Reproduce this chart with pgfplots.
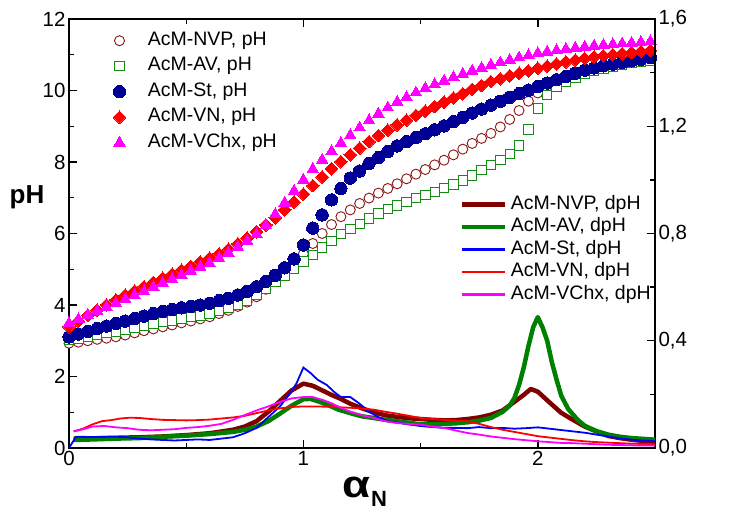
\documentclass[border=0pt]{standalone}
\usepackage{fontspec}
\setmainfont{Liberation Sans}
\usepackage{pgfplots}
\usepackage{pgfplotstable}
\pgfplotsset{compat=1.18}

\definecolor{nvpmark}{RGB}{140,20,20}
\definecolor{nvpline}{RGB}{128,0,0}
\definecolor{avmark}{RGB}{20,140,20}
\definecolor{avline}{RGB}{0,128,0}
\definecolor{stmark}{RGB}{0,0,150}
\definecolor{stline}{RGB}{0,0,255}
\definecolor{vncol}{RGB}{255,0,0}
\definecolor{vchxcol}{RGB}{255,0,255}

% titration curves, pH against alpha_N
\pgfplotstableread{
x nvp av st vn vchx
0.00 2.93 3.02 3.11 3.39 3.49
0.04 2.96 3.06 3.19 3.55 3.60
0.08 3.00 3.11 3.26 3.71 3.72
0.12 3.04 3.16 3.34 3.86 3.83
0.16 3.07 3.21 3.41 4.00 3.94
0.20 3.11 3.26 3.48 4.14 4.05
0.24 3.16 3.32 3.55 4.27 4.16
0.28 3.22 3.37 3.62 4.39 4.27
0.32 3.28 3.42 3.69 4.51 4.38
0.36 3.33 3.48 3.76 4.63 4.50
0.40 3.39 3.53 3.82 4.75 4.61
0.44 3.44 3.57 3.87 4.86 4.72
0.48 3.50 3.62 3.92 4.97 4.83
0.52 3.55 3.66 3.96 5.08 4.95
0.56 3.61 3.71 4.00 5.20 5.06
0.60 3.67 3.76 4.05 5.31 5.17
0.64 3.76 3.83 4.12 5.43 5.31
0.68 3.85 3.91 4.19 5.56 5.46
0.72 3.96 4.01 4.28 5.71 5.62
0.76 4.08 4.13 4.38 5.87 5.79
0.80 4.23 4.28 4.51 6.05 5.98
0.84 4.44 4.46 4.66 6.24 6.23
0.88 4.68 4.65 4.83 6.44 6.54
0.92 4.91 4.82 5.04 6.66 6.86
0.96 5.15 5.00 5.29 6.88 7.19
1.00 5.43 5.22 5.68 7.10 7.50
1.04 5.72 5.40 6.15 7.34 7.80
1.08 6.00 5.61 6.52 7.58 8.06
1.12 6.25 5.79 6.94 7.81 8.30
1.16 6.47 5.98 7.26 8.01 8.53
1.20 6.66 6.12 7.55 8.20 8.75
1.24 6.84 6.27 7.75 8.39 8.96
1.28 6.99 6.42 7.96 8.57 9.16
1.32 7.13 6.56 8.12 8.74 9.35
1.36 7.26 6.68 8.29 8.89 9.52
1.40 7.39 6.78 8.45 9.04 9.68
1.44 7.53 6.89 8.57 9.17 9.81
1.48 7.66 6.99 8.68 9.30 9.94
1.52 7.79 7.08 8.79 9.42 10.06
1.56 7.92 7.17 8.90 9.55 10.17
1.60 8.05 7.27 9.01 9.67 10.27
1.64 8.20 7.37 9.13 9.79 10.37
1.68 8.36 7.48 9.25 9.91 10.46
1.72 8.52 7.62 9.37 10.03 10.55
1.76 8.66 7.78 9.48 10.14 10.63
1.80 8.80 7.91 9.59 10.25 10.71
1.84 8.98 8.05 9.70 10.33 10.78
1.88 9.19 8.22 9.81 10.41 10.85
1.92 9.44 8.46 9.91 10.48 10.92
1.96 9.70 8.91 10.01 10.55 10.98
2.00 9.93 9.50 10.11 10.62 11.04
2.04 10.11 9.88 10.21 10.68 11.08
2.08 10.24 10.10 10.30 10.74 11.12
2.12 10.35 10.24 10.39 10.80 11.16
2.16 10.45 10.36 10.48 10.85 11.19
2.20 10.54 10.46 10.57 10.90 11.22
2.24 10.61 10.54 10.63 10.94 11.25
2.28 10.68 10.61 10.69 10.97 11.27
2.32 10.74 10.67 10.74 11.00 11.29
2.36 10.80 10.72 10.79 11.03 11.31
2.40 10.85 10.77 10.83 11.06 11.33
2.44 10.89 10.81 10.87 11.09 11.35
2.48 10.93 10.84 10.92 11.12 11.37
}\phdata

\begin{document}
\begin{tikzpicture}
\begin{axis}[
  name=main,
  scale only axis, width=586pt, height=429pt,
  xmin=0, xmax=2.5, ymin=0, ymax=12,
  xtick={0,1,2}, minor xtick={0.5,1.5},
  ytick={0,2,...,12}, minor ytick={1,3,...,11},
  ytick pos=left,
  tick align=inside,
  major tick length=8pt, minor tick length=5pt,
  tick style={black, line width=1.4pt},
  axis line style={line width=1.8pt},
  /pgf/number format/assume math mode=true,
  ticklabel style={font=\fontsize{20.5}{24}\selectfont},
  clip=false,
  legend style={at={(rel axis cs:0.075,0.972)}, anchor=north west,
    draw=none, fill=none, inner xsep=0pt, inner ysep=0pt,
    font=\fontsize{19.5}{23}\selectfont, row sep=6.5pt, column sep=21pt,
    nodes={inner sep=1pt, text height=13pt, text depth=4pt}},
  legend cell align=left,
]
\addplot[only marks, mark=*, mark size=5pt, mark options={draw=nvpmark, fill=white, line width=0.9pt}]
  table[x=x, y=nvp] {\phdata};
\addlegendentry{AcM-NVP, pH}
\addplot[only marks, mark=square*, mark size=4.7pt, mark options={draw=avmark, fill=white, line width=0.9pt}]
  table[x=x, y=av] {\phdata};
\addlegendentry{AcM-AV, pH}
\addplot[only marks, mark=*, mark size=6.2pt, mark options={draw=stmark, fill=stmark, line width=0pt}]
  table[x=x, y=st] {\phdata};
\addlegendentry{AcM-St, pH}
\addplot[only marks, mark=square*, mark size=4.5pt, mark options={draw=vncol, fill=vncol, rotate=45, line width=0pt}]
  table[x=x, y=vn] {\phdata};
\addlegendentry{AcM-VN, pH}
\addplot[only marks, mark=triangle*, mark size=6.6pt, mark options={draw=vchxcol, fill=vchxcol, line width=0pt}]
  table[x=x, y=vchx] {\phdata};
\addlegendentry{AcM-VChx, pH}

\node[font=\fontsize{26}{30}\selectfont\bfseries] at (rel axis cs:-0.0717,0.585) {pH};
\node at (rel axis cs:0.505,-0.102)
  {\scalebox{1.2}[1]{\fontsize{38}{38}\selectfont\bfseries α}\raisebox{-9pt}{\fontsize{22}{22}\selectfont\bfseries N}};
\end{axis}

\begin{axis}[
  scale only axis, width=586pt, height=429pt,
  xmin=0, xmax=2.5, ymin=0, ymax=1.6,
  axis x line=none, axis y line*=right,
  ytick={0,0.4,0.8,1.2,1.6},
  yticklabels={{0,0},{0,4},{0,8},{1,2},{1,6}},
  minor ytick={0.2,0.6,1.0,1.4},
  tick align=inside,
  major tick length=8pt, minor tick length=5pt,
  tick style={black, line width=1.4pt},
  axis line style={line width=1.8pt},
  ticklabel style={font=\fontsize{20.5}{24}\selectfont},
  legend style={at={(rel axis cs:0.666,0.59)}, anchor=north west,
    draw=none, fill=none, inner xsep=0pt, inner ysep=0pt,
    font=\fontsize{19.5}{23}\selectfont, row sep=3.5pt, column sep=3pt,
    nodes={inner sep=1pt, text height=13pt, text depth=4pt}},
  legend cell align=left,
  legend image code/.code={\draw[#1] (0pt,0pt) -- (43pt,0pt);},
]
\addplot[color=nvpline, line width=4.5pt, line join=round] coordinates {
(0.02,0.035) (0.1,0.036) (0.2,0.038) (0.3,0.040) (0.4,0.043) (0.5,0.048)
(0.6,0.055) (0.7,0.068) (0.75,0.08) (0.8,0.10) (0.85,0.135) (0.9,0.175)
(0.95,0.215) (1.0,0.24) (1.04,0.232) (1.08,0.215) (1.12,0.198) (1.16,0.183)
(1.2,0.165) (1.25,0.148) (1.3,0.133) (1.35,0.122) (1.4,0.116) (1.45,0.111)
(1.5,0.108) (1.55,0.105) (1.6,0.103) (1.65,0.104) (1.7,0.108) (1.75,0.114)
(1.8,0.124) (1.85,0.14) (1.9,0.172) (1.94,0.198) (1.97,0.22) (2.0,0.21)
(2.05,0.17) (2.1,0.131) (2.15,0.105) (2.2,0.08) (2.25,0.062) (2.3,0.045)
(2.35,0.037) (2.4,0.031) (2.45,0.026) (2.5,0.021)};
\addlegendentry{AcM-NVP, dpH}
\addplot[color=avline, line width=4.5pt, line join=round] coordinates {
(0.02,0.03) (0.1,0.032) (0.2,0.035) (0.3,0.037) (0.4,0.042) (0.5,0.046)
(0.6,0.052) (0.7,0.06) (0.75,0.068) (0.8,0.08) (0.85,0.10) (0.9,0.128)
(0.95,0.158) (1.0,0.182) (1.03,0.183) (1.07,0.172) (1.1,0.162) (1.15,0.143)
(1.2,0.13) (1.25,0.118) (1.3,0.112) (1.35,0.105) (1.4,0.1) (1.45,0.094)
(1.5,0.088) (1.55,0.088) (1.6,0.09) (1.65,0.092) (1.7,0.096) (1.75,0.102)
(1.8,0.112) (1.85,0.135) (1.88,0.158) (1.9,0.186) (1.92,0.235) (1.94,0.30)
(1.96,0.38) (1.98,0.45) (2.0,0.488) (2.02,0.45) (2.04,0.40) (2.06,0.32)
(2.08,0.255) (2.1,0.195) (2.13,0.145) (2.17,0.105) (2.2,0.083) (2.25,0.063)
(2.3,0.05) (2.35,0.042) (2.4,0.037) (2.45,0.034) (2.5,0.031)};
\addlegendentry{AcM-AV, dpH}
\addplot[color=stline, line width=1.8pt, legend image post style={line width=2.2pt}] coordinates {
(0,0) (0.03,0.042) (0.1,0.041) (0.2,0.042) (0.25,0.040) (0.3,0.035)
(0.35,0.032) (0.4,0.030) (0.45,0.028) (0.5,0.030) (0.55,0.032) (0.6,0.030)
(0.65,0.035) (0.7,0.040) (0.75,0.055) (0.8,0.075) (0.85,0.115) (0.9,0.155)
(0.94,0.20) (0.97,0.24) (1.0,0.30) (1.03,0.28) (1.06,0.255) (1.1,0.235)
(1.13,0.21) (1.16,0.19) (1.2,0.19) (1.24,0.165) (1.28,0.135) (1.32,0.115)
(1.36,0.10) (1.4,0.095) (1.45,0.088) (1.5,0.082) (1.55,0.078) (1.6,0.075)
(1.65,0.075) (1.7,0.074) (1.75,0.078) (1.8,0.074) (1.85,0.075) (1.9,0.072)
(1.95,0.074) (2.0,0.077) (2.05,0.072) (2.1,0.067) (2.15,0.062) (2.2,0.057)
(2.25,0.050) (2.3,0.043) (2.35,0.036) (2.4,0.031) (2.45,0.028) (2.5,0.025)};
\addlegendentry{AcM-St, dpH}
\addplot[color=vncol, line width=1.8pt, legend image post style={line width=2.2pt}] coordinates {
(0.02,0.062) (0.06,0.072) (0.1,0.088) (0.14,0.10) (0.18,0.104) (0.22,0.11)
(0.26,0.113) (0.3,0.112) (0.35,0.108) (0.4,0.105) (0.45,0.104) (0.5,0.103)
(0.55,0.104) (0.6,0.106) (0.65,0.11) (0.7,0.114) (0.75,0.12) (0.8,0.13)
(0.85,0.14) (0.9,0.148) (0.95,0.153) (1.0,0.155) (1.05,0.155) (1.1,0.154)
(1.15,0.152) (1.2,0.15) (1.25,0.147) (1.3,0.143) (1.35,0.135) (1.4,0.128)
(1.45,0.12) (1.5,0.112) (1.55,0.108) (1.6,0.105) (1.65,0.102) (1.7,0.1)
(1.75,0.09) (1.8,0.078) (1.85,0.068) (1.9,0.06) (1.95,0.052) (2.0,0.044)
(2.05,0.039) (2.1,0.034) (2.15,0.029) (2.2,0.025) (2.25,0.022) (2.3,0.02)
(2.35,0.018) (2.4,0.016) (2.45,0.015) (2.5,0.014)};
\addlegendentry{AcM-VN, dpH}
\addplot[color=vchxcol, line width=1.8pt, legend image post style={line width=2.2pt}] coordinates {
(0.02,0.062) (0.06,0.07) (0.1,0.08) (0.15,0.082) (0.2,0.077) (0.25,0.074)
(0.3,0.068) (0.35,0.066) (0.4,0.068) (0.45,0.07) (0.5,0.075) (0.55,0.078)
(0.6,0.083) (0.65,0.09) (0.7,0.105) (0.75,0.123) (0.8,0.14) (0.85,0.155)
(0.9,0.172) (0.95,0.185) (1.0,0.19) (1.04,0.19) (1.08,0.18) (1.12,0.167)
(1.16,0.15) (1.2,0.135) (1.25,0.122) (1.3,0.112) (1.35,0.1) (1.4,0.093)
(1.45,0.09) (1.5,0.087) (1.55,0.08) (1.6,0.075) (1.65,0.065) (1.7,0.056)
(1.75,0.05) (1.8,0.043) (1.85,0.038) (1.9,0.033) (1.95,0.029) (2.0,0.025)
(2.05,0.022) (2.1,0.019) (2.15,0.018) (2.2,0.016) (2.25,0.014) (2.3,0.012)
(2.35,0.011) (2.4,0.01) (2.45,0.009) (2.5,0.009)};
\addlegendentry{AcM-VChx, dpH}

\node[font=\fontsize{26}{30}\selectfont\bfseries] at (rel axis cs:1.085,0.66) {dpH};
\end{axis}

\pgfresetboundingbox
\path ([shift={(-69pt,-68pt)}]main.south west) rectangle ([shift={(78pt,19pt)}]main.north east);
\end{tikzpicture}
\end{document}
